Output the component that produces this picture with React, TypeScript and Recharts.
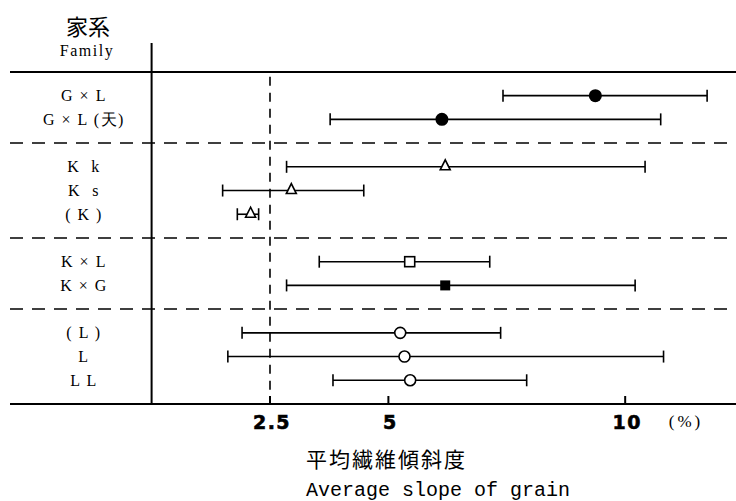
import { ScatterChart, Scatter, XAxis, YAxis, ErrorBar, ReferenceLine } from 'recharts';

const families = ['G × L', 'G × L (天)', 'K  k', 'K  s', '( K )', 'K × L', 'K × G', '( L )', 'L', 'L L'];
const rowSlots = [1, 2, 4, 5, 6, 8, 9, 11, 12, 13];
const meanSlope = [9.37, 6.13, 6.2, 2.95, 2.09, 5.45, 6.2, 5.25, 5.34, 5.46];
const minSlope = [7.42, 3.77, 2.85, 1.5, 1.81, 3.54, 2.85, 1.91, 1.61, 3.83];
const maxSlope = [11.73, 10.75, 10.42, 4.48, 2.26, 7.14, 10.21, 7.37, 10.81, 7.92];
const markerKinds = ['dot', 'dot', 'triangle', 'triangle', 'triangle', 'square', 'filledSquare', 'circle', 'circle', 'circle'];
const groupBreaks = [3, 7, 10];
const xTicks = [2.5, 5, 10];
const referenceSlope = 2.5;

const rows = families.map((name, i) => ({
  name,
  x: meanSlope[i],
  y: rowSlots[i],
  err: [meanSlope[i] - minSlope[i], maxSlope[i] - meanSlope[i]],
  kind: markerKinds[i],
}));

const serif = '"Liberation Serif", "DejaVu Serif", serif';
const cjk = '"Noto Sans CJK JP", sans-serif';

const Marker = (props: any) => {
  const { cx, cy, payload } = props;
  if (cx == null || cy == null) return null;
  switch (payload.kind) {
    case 'dot':
      return <circle cx={cx} cy={cy} r={6.5} fill="#000" />;
    case 'triangle':
      return (
        <polygon
          points={`${cx},${cy - 7} ${cx - 5},${cy + 3} ${cx + 5},${cy + 3}`}
          fill="#fff"
          stroke="#000"
          strokeWidth={1.6}
        />
      );
    case 'square':
      return <rect x={cx - 5} y={cy - 5} width={10} height={10} fill="#fff" stroke="#000" strokeWidth={1.6} />;
    case 'filledSquare':
      return <rect x={cx - 5} y={cy - 5} width={10} height={10} fill="#000" />;
    default:
      return <circle cx={cx} cy={cy} r={5.5} fill="#fff" stroke="#000" strokeWidth={1.6} />;
  }
};

const FamilyTick = (props: any) => {
  const { y, payload } = props;
  const idx = rowSlots.indexOf(payload.value);
  if (idx < 0) return null;
  return (
    <text
      x={84}
      y={y}
      textAnchor="middle"
      dominantBaseline="central"
      fontFamily={serif}
      fontSize={16}
      letterSpacing={1.5}
      fill="#000"
      style={{ whiteSpace: 'pre' }}
    >
      {families[idx]}
    </text>
  );
};

const SlopeTick = (props: any) => {
  const { x, y, payload } = props;
  return (
    <g>
      <line x1={x} y1={y} x2={x} y2={y - 8} stroke="#000" strokeWidth={2} />
      <text
        x={x + 2}
        y={y + 18}
        textAnchor="middle"
        dominantBaseline="central"
        fontFamily='"DejaVu Sans", sans-serif'
        fontWeight="bold"
        fontSize={19}
        letterSpacing={1.5}
        fill="#000"
        stroke="#000"
        strokeWidth={0.6}
      >
        {payload.value}
      </text>
    </g>
  );
};

export default function App() {
  return (
    <div style={{ position: 'absolute', left: 0, top: 0, width: 736, height: 501, background: '#fff' }}>
      <ScatterChart width={736} height={501} margin={{ top: 43, right: 0, bottom: 67, left: 0 }}>
        <XAxis
          type="number"
          dataKey="x"
          domain={[-2.99, 12.34]}
          ticks={xTicks}
          height={30}
          tickSize={0}
          tickMargin={0}
          tickLine={false}
          axisLine={{ stroke: '#000', strokeWidth: 2 }}
          tick={<SlopeTick />}
          allowDataOverflow
        />
        <YAxis
          type="number"
          dataKey="y"
          domain={[-1.22, 14]}
          reversed
          ticks={rowSlots}
          width={10}
          axisLine={false}
          tickLine={false}
          tick={<FamilyTick />}
          allowDataOverflow
        />
        <ReferenceLine y={0} stroke="#000" strokeWidth={2} />
        <ReferenceLine x={0} stroke="#000" strokeWidth={2} />
        {groupBreaks.map(b => (
          <ReferenceLine key={b} y={b} stroke="#000" strokeWidth={1.5} strokeDasharray="13 9" />
        ))}
        <ReferenceLine
          segment={[{ x: referenceSlope, y: 0.2 }, { x: referenceSlope, y: 14 }]}
          stroke="#000"
          strokeWidth={1.6}
          strokeDasharray="9 7"
        />
        <Scatter data={rows} shape={<Marker />} isAnimationActive={false}>
          <ErrorBar dataKey="err" direction="x" width={6} stroke="#000" strokeWidth={1.6} isAnimationActive={false} />
        </Scatter>
      </ScatterChart>
      <div style={{ position: 'absolute', left: 88, top: 25, transform: 'translate(-50%, -50%)', fontFamily: cjk, fontSize: 22, whiteSpace: 'nowrap' }}>
        家系
      </div>
      <div style={{ position: 'absolute', left: 87, top: 51, transform: 'translate(-50%, -50%)', fontFamily: serif, fontSize: 16, letterSpacing: 1.5, whiteSpace: 'nowrap' }}>
        Family
      </div>
      <div style={{ position: 'absolute', left: 686, top: 422, transform: 'translate(-50%, -50%)', fontFamily: serif, fontSize: 17, letterSpacing: 3, whiteSpace: 'nowrap' }}>
        (%)
      </div>
      <div style={{ position: 'absolute', left: 306, top: 458, transform: 'translateY(-50%)', fontFamily: cjk, fontSize: 21, letterSpacing: 2, whiteSpace: 'nowrap' }}>
        平均繊維傾斜度
      </div>
      <div style={{ position: 'absolute', left: 306, top: 490, transform: 'translateY(-50%)', fontFamily: '"Liberation Mono", monospace', fontSize: 20, whiteSpace: 'nowrap' }}>
        Average slope of grain
      </div>
    </div>
  );
}
